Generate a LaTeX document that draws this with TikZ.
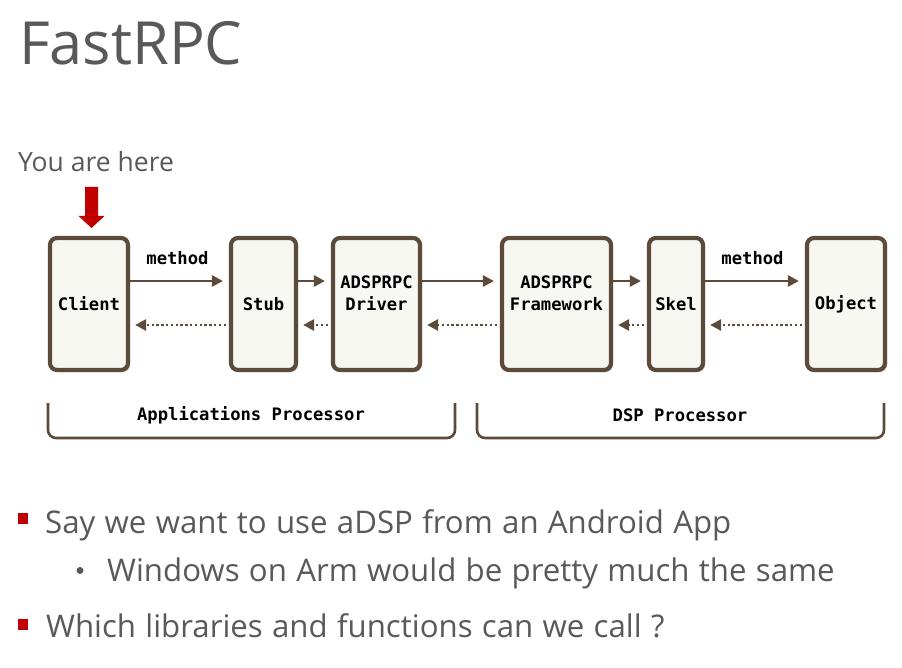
\documentclass[tikz,border=0pt]{standalone}
\usepackage{fontspec}
\setmainfont{Open Sans}
\newfontfamily\bulletfont[WordSpace=1.15]{Open Sans}
\newfontfamily\monob{DejaVu Sans Mono}
\usetikzlibrary{arrows.meta,shadows}

\definecolor{txtgray}{HTML}{595959}
\definecolor{boxbrown}{HTML}{5C4A3B}
\definecolor{boxfill}{HTML}{F8F8F3}
\definecolor{markred}{HTML}{C00000}

\tikzset{
  blk/.style={draw=boxbrown, line width=4.2pt, fill=boxfill, rounded corners=7pt,
    minimum height=132pt, inner sep=0pt,
    font=\monob\bfseries\fontsize{17.2}{22}\selectfont, align=center,
    drop shadow={shadow xshift=2pt, shadow yshift=-2pt, opacity=0.3, fill=boxbrown}},
  call/.style={draw=boxbrown, line width=2.6pt,
    -{Triangle[length=11pt,width=11pt]}, shorten >=6pt},
  reply/.style={draw=boxbrown, line width=2.6pt, dash pattern=on 2.4pt off 2.4pt,
    -{Triangle[length=11pt,width=11pt]}, shorten >=5pt, shorten <=3pt},
  mono/.style={font=\monob\bfseries\fontsize{17.2}{22}\selectfont, inner sep=0pt},
  bracket/.style={draw=boxbrown, line width=2.6pt, rounded corners=8pt},
  slide/.style={text=txtgray, inner sep=0pt, anchor=base west},
  item/.style={slide, font=\bulletfont\fontsize{31.2}{36}\selectfont},
  redsq/.style={fill=markred, draw=none}
}

\begin{document}
\begin{tikzpicture}[x=1pt, y=-1pt]
\useasboundingbox (0,0) rectangle (902,668);
\fill[white] (0,0) rectangle (902,668);

% heading and pointer
\node[slide, font=\fontsize{59.5}{70}\selectfont] (title) at (19,65) {FastRPC};
\node[slide, font=\fontsize{26.5}{32}\selectfont] (here) at (18,172) {You are here};
\fill[markred] (85,187) -- (98,187) -- (98,216) -- (104.5,216) -- (91.5,228)
  -- (78.5,216) -- (85,216) -- cycle;

% components
\node[blk, minimum width=78pt] (client) at (89,304) {Client};
\node[blk, minimum width=65pt] (stub) at (263.5,304) {Stub};
\node[blk, minimum width=87pt,
  label={[name=drvlbl, mono, align=center, yshift=11pt]center:ADSPRPC\\Driver}]
  (driver) at (376.5,304) {};
\node[blk, minimum width=109pt,
  label={[name=fwlbl, mono, align=center, yshift=11pt]center:ADSPRPC\\Framework}]
  (framework) at (556.5,304) {};
\node[blk, minimum width=54pt] (skel) at (676,304) {Skel};
\node[blk, minimum width=78pt] (object) at (846,304) {Object};

% calls (solid) and returns (dotted)
\foreach \a/\b in {client/stub, stub/driver, driver/framework, framework/skel, skel/object}{
  \draw[call] ([yshift=23pt]\a.east) -- ([yshift=23pt]\b.west);
  \draw[reply] ([yshift=-21pt]\b.west) -- ([yshift=-21pt]\a.east);
}
\node[mono] (m1) at (177.5,258) {method};
\node[mono] (m2) at (752.5,258) {method};

% processor groups
\draw[bracket] (48,403) -- (48,438) -- (455,438) -- (455,403);
\draw[bracket] (477,403) -- (477,438) -- (884,438) -- (884,403);
\node[mono] (ap) at (251,415) {Applications Processor};
\node[mono] (dsp) at (680,415) {DSP Processor};

% bullet list
\fill[redsq] (18,513) rectangle (28,524);
\fill[redsq] (18,619) rectangle (28,630);
\fill[txtgray] (80,570.5) circle (3.5pt);
\node[item] (b1) at (45,533) {Say we want to use aDSP from an Android App};
\node[item] (b2) at (107,581) {Windows on Arm would be pretty much the same};
\node[item] (b3) at (46,637) {Which libraries and functions can we call ?};
\end{tikzpicture}
\end{document}
